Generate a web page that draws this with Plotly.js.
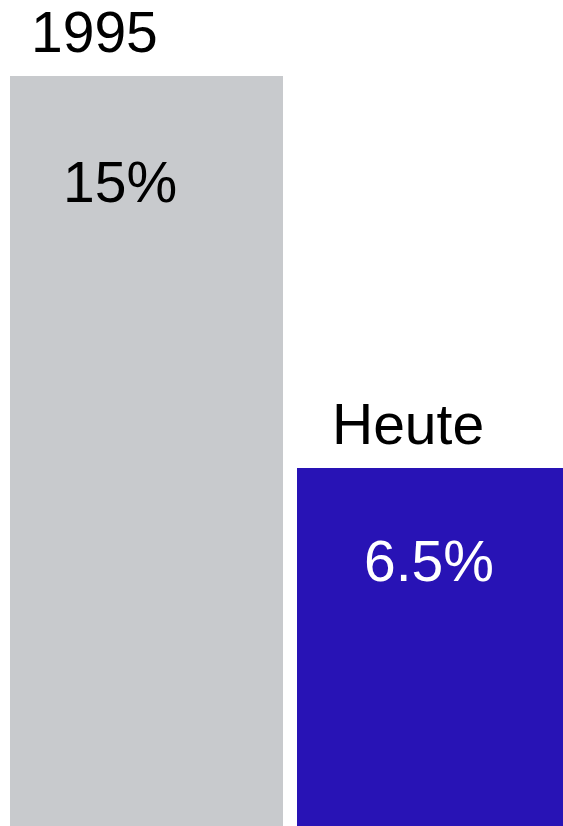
<!DOCTYPE html>
<html>
<head>
<meta charset="utf-8">
<script src="https://cdn.plot.ly/plotly-3.0.1.min.js"></script>
<style>html,body{margin:0;padding:0;background:#fff;}#chart{width:563px;height:826px;}</style>
</head>
<body>
<div id="chart"></div>
<script>
const categories = ["1995", "Heute"];
const values = [15, 6.5];
const valueLabels = ["15%", "6.5%"];

const yMin = -1.2754, yMax = 16.649;
const W = 563, H = 826;

const trace = {
  type: "bar",
  x: [0, 1],
  y: values.map(v => v - yMin),
  base: yMin,
  width: 0.9512,
  marker: {color: ["#c8cacd", "#2813b5"], line: {width: 0}},
  hoverinfo: "none",
  showlegend: false
};

// label positions in pixels (visual centres)
const catPos = [[95, 32], [408, 423.5]];
const valPos = [[119.5, 182], [429, 561]];
const valColors = ["#000000", "#ffffff"];
const fontFam = "Liberation Sans, Arial, sans-serif";
const annotations = [];
categories.forEach((c, i) => {
  annotations.push({text: c, xref: "paper", yref: "paper", x: catPos[i][0] / W, y: 1 - catPos[i][1] / H,
    xanchor: "center", yanchor: "middle", showarrow: false, font: {family: fontFam, size: 57, color: "#000"}});
  annotations.push({text: valueLabels[i], xref: "paper", yref: "paper", x: valPos[i][0] / W, y: 1 - valPos[i][1] / H,
    xanchor: "center", yanchor: "middle", showarrow: false, font: {family: fontFam, size: 57, color: valColors[i]}});
});

const layout = {
  width: W, height: H,
  margin: {l: 0, r: 0, t: 0, b: 0, pad: 0},
  paper_bgcolor: "#fff", plot_bgcolor: "#fff",
  xaxis: {range: [-0.5105, 1.4512], visible: false, fixedrange: true},
  yaxis: {range: [yMin, yMax], visible: false, fixedrange: true},
  annotations: annotations,
  bargap: 0
};
Plotly.newPlot("chart", [trace], layout, {displayModeBar: false, staticPlot: true});
</script>
</body>
</html>
